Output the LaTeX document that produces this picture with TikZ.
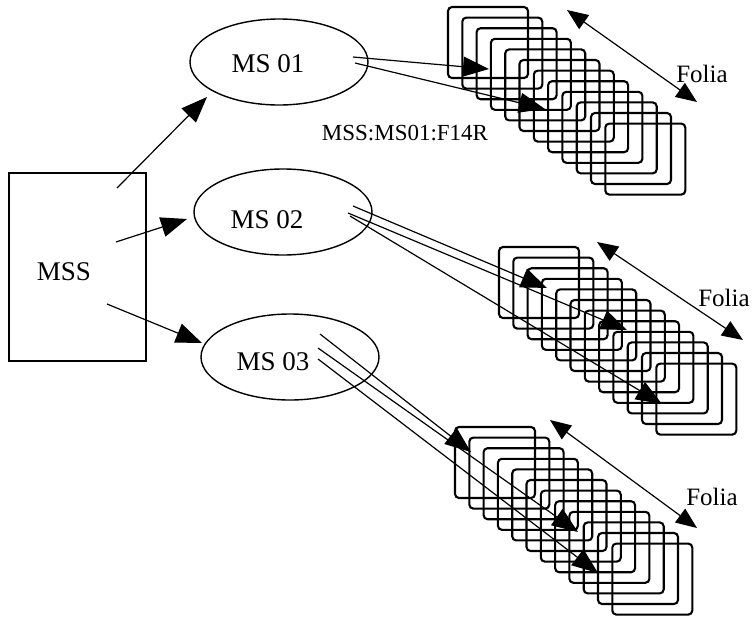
\documentclass[tikz,border=0pt]{standalone}
\usepackage{fontspec}
\setmainfont{Liberation Serif}
\usetikzlibrary{shapes.geometric,arrows.meta,calc}
\tikzset{
  card/.style={line width=2.1pt,rounded corners=4pt},
  link/.style={line width=1.2pt,-{Triangle[length=26pt,width=20pt]}},
  folia/.style={line width=1.2pt,{Triangle[length=21pt,width=17pt]}-{Triangle[length=21pt,width=17pt]}},
  msbox/.style={draw,ellipse,line width=1.4pt,minimum width=178pt,minimum height=86pt,inner sep=0pt},
  lbl/.style={font=\fontsize{27}{30}\selectfont,inner sep=0pt},
  small/.style={font=\fontsize{23}{26}\selectfont,inner sep=0pt},
  fol/.style={font=\fontsize{25}{28}\selectfont,inner sep=0pt},
}
\begin{document}
\begin{tikzpicture}[x=1pt,y=-1pt]
  \useasboundingbox (0,0) rectangle (752,616);
  % MSS box on the left
  \node[draw,line width=1.4pt,minimum width=137pt,minimum height=188pt,inner sep=0pt] (mss) at (77.5,267) {};
  \node[lbl] (msslbl) at (64,272) {MSS};
  % three manuscripts
  \node[msbox] (ms1) at (279,62) {};
  \node[lbl] (ms1lbl) at (268,64) {MS 01};
  \node[msbox] (ms2) at (283,212) {};
  \node[lbl] (ms2lbl) at (267,220) {MS 02};
  \node[msbox] (ms3) at (290,357) {};
  \node[lbl] (ms3lbl) at (273,362) {MS 03};
  % MSS -> MS
  \coordinate (m1) at (117,188);
  \coordinate (m2) at (116,242);
  \coordinate (m3) at (107,304);
  \coordinate (e1) at (207,97);
  \coordinate (e2) at (187,219);
  \coordinate (e3) at (202,343);
  \draw[link] (m1) -- (e1);
  \draw[link] (m2) -- (e2);
  \draw[link] (m3) -- (e3);
  % stacks of folia
  \coordinate (s1) at (448,7);
  \coordinate (s2) at (499,247);
  \coordinate (s3) at (455,427);
  \foreach \s in {s1,s2,s3}
    \foreach \i in {0,...,11}
      \draw[card] ($(\s)+(14.3*\i,10.6*\i)$) rectangle +(80,71);
  % MS 01 -> folia
  \coordinate (a11) at (353,57);
  \coordinate (a12) at (355,63);
  \coordinate (b11) at (489,69);
  \coordinate (b12) at (545,109);
  \draw[link] (a11) -- (b11);
  \draw[link] (a12) -- (b12);
  \node[small] (shelf) at (405,133) {MSS:MS01:F14R};
  % MS 02 -> folia
  \coordinate (a21) at (353,206);
  \coordinate (a22) at (348,213);
  \coordinate (a23) at (350,216);
  \coordinate (b21) at (547,288);
  \coordinate (b22) at (627,330);
  \coordinate (b23) at (662,404);
  \draw[link] (a21) -- (b21);
  \draw[link] (a22) -- (b22);
  \draw[link] (a23) -- (b23);
  % MS 03 -> folia
  \coordinate (a31) at (320,334);
  \coordinate (a32) at (318,348);
  \coordinate (a33) at (318,359);
  \coordinate (b31) at (471,452);
  \coordinate (b32) at (578,532);
  \coordinate (b33) at (598,573);
  \draw[link] (a31) -- (b31);
  \draw[link] (a32) -- (b32);
  \draw[link] (a33) -- (b33);
  % Folia double arrows
  \coordinate (f1a) at (567,10);
  \coordinate (f1b) at (697,102);
  \coordinate (f2a) at (597,242);
  \coordinate (f2b) at (743,340);
  \coordinate (f3a) at (550,420);
  \coordinate (f3b) at (697,528);
  \draw[folia] (f1a) -- (f1b);
  \draw[folia] (f2a) -- (f2b);
  \draw[folia] (f3a) -- (f3b);
  \node[fol] (fol1) at (702,74) {Folia};
  \node[fol] (fol2) at (724,298) {Folia};
  \node[fol] (fol3) at (712,497) {Folia};
\end{tikzpicture}
\end{document}
